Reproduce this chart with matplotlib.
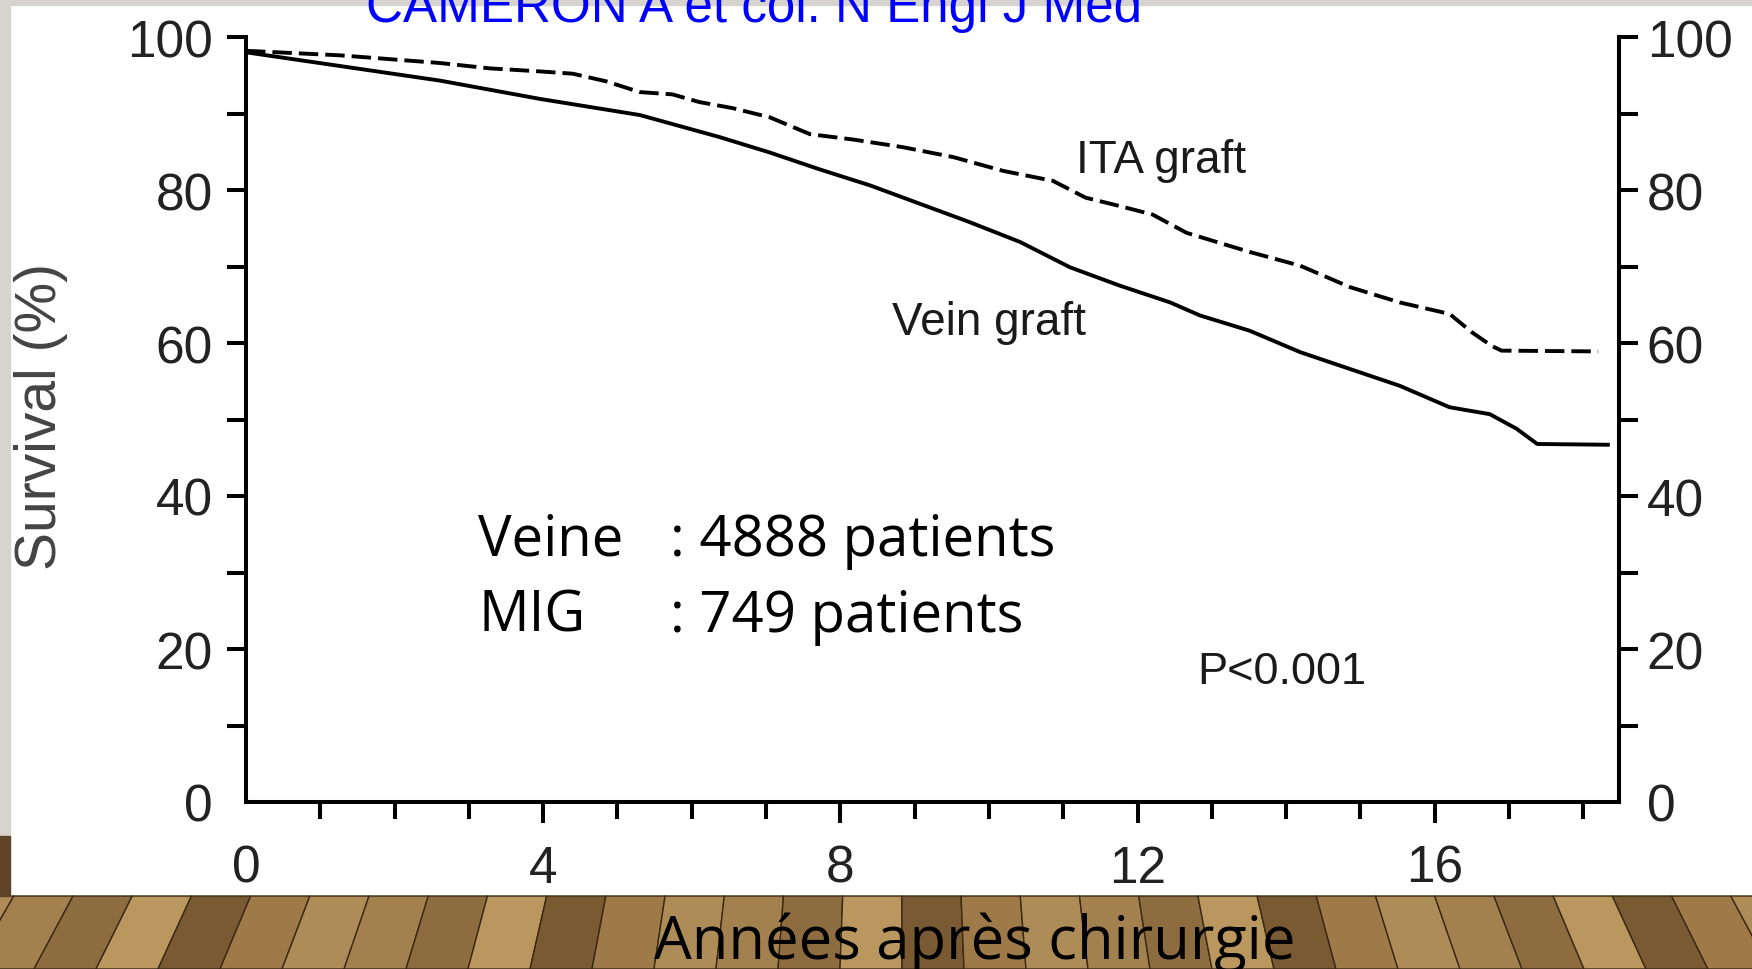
import numpy as np
import matplotlib
matplotlib.use('Agg')
import matplotlib.pyplot as plt
from matplotlib.patches import Polygon, Rectangle

# courbes de survie (années, %)
vein_years = [0, 1.27, 2.61, 3.96, 5.3, 6.38, 7.05, 7.72, 8.4, 9.07, 9.74, 10.42,
              11.09, 11.76, 12.44, 12.84, 13.51, 14.19, 14.86, 15.53, 16.2, 16.74,
              17.1, 17.38, 18.33]
vein_surv = [98.0, 96.2, 94.3, 91.9, 89.8, 86.9, 84.9, 82.7, 80.6, 78.2, 75.8, 73.2,
             69.9, 67.5, 65.3, 63.6, 61.6, 58.8, 56.6, 54.4, 51.6, 50.7,
             48.8, 46.8, 46.7]

ita_years = [0, 1.27, 1.94, 2.61, 3.28, 3.96, 4.4, 4.85, 5.3, 5.74, 6.1, 6.55, 7.05,
             7.59, 8.17, 8.84, 9.52, 10.19, 10.86, 11.3, 11.76, 12.2, 12.66, 13.1,
             13.51, 14.19, 14.86, 15.53, 16.2, 16.5, 16.77, 16.9, 18.2]
ita_surv = [98.2, 97.6, 97.1, 96.6, 95.9, 95.5, 95.2, 94.2, 92.8, 92.5, 91.5, 90.7, 89.5,
            87.3, 86.6, 85.6, 84.3, 82.5, 81.2, 79.0, 77.9, 76.8, 74.4, 73.1,
            71.9, 70.1, 67.3, 65.3, 63.8, 61.4, 59.6, 59.0, 58.9]

x_major = [0, 4, 8, 12, 16]
x_minor = list(range(0, 19))
y_major = [0, 20, 40, 60, 80, 100]
y_minor = [10, 30, 50, 70, 90]

title = 'CAMERON A et col. N Engl J Med'
xlabel = 'Années après chirurgie'
ylabel = 'Survival (%)'
groups = ['Veine', 'MIG']
counts = [': 4888 patients', ': 749 patients']

W, H = 1752, 970
fig = plt.figure(figsize=(W / 100, H / 100), dpi=100)

# fond de la diapo (pixels)
bg = fig.add_axes([0, 0, 1, 1])
bg.set_xlim(0, W)
bg.set_ylim(H, 0)
bg.axis('off')
bg.add_patch(Rectangle((0, 0), W, H, color='white', zorder=0))
bg.add_patch(Rectangle((0, 0), W, 6, color='#d7d4cf', zorder=1))
bg.add_patch(Rectangle((0, 0), 10, 837, color='#d7d4cf', zorder=1))

# parquet
wood_top = 897
vx, vy = 900, -650
wood_cols = ['#a3814f', '#8d6c40', '#b9975f', '#7a5a33', '#9d7a48', '#ae8c58']
xb = np.arange(-400, 2200, 62)
def xat(x0, y):
    return vx + (x0 - vx) * (y - vy) / (H - vy)
for i in range(len(xb) - 1):
    a, b = xb[i], xb[i + 1]
    pts = [(xat(a, wood_top), wood_top), (xat(b, wood_top), wood_top), (b, H), (a, H)]
    bg.add_patch(Polygon(pts, closed=True, facecolor=wood_cols[i % len(wood_cols)],
                         edgecolor='#3a2814', linewidth=1.0, zorder=1))
bg.add_patch(Rectangle((0, 837), 10, 60, color='#5e4326', zorder=1))

# textes de la diapo
bg.text(366, 22, title, color='#0000ff', fontsize=36.8, family='Liberation Sans',
        ha='left', va='baseline', zorder=5)
bg.text(975, 959, xlabel, color='black', fontsize=43, family='Open Sans',
        ha='center', va='baseline', zorder=5)
bg.text(41, 417, ylabel, color='#444444', fontsize=41, family='Liberation Sans',
        rotation=90, ha='center', va='center', zorder=5)
for k in range(2):
    yb = 556 + 76 * k
    bg.text(478, yb, groups[k], color='black', fontsize=40.5, family='Open Sans',
            ha='left', va='baseline', zorder=5)
    bg.text(670, yb, counts[k], color='black', fontsize=40.5, family='Open Sans',
            ha='left', va='baseline', zorder=5)

# graphique
ax = fig.add_axes([246 / W, (H - 803) / H, (1619 - 246) / W, (803 - 38) / H])
ax.patch.set_alpha(0)
ax.set_xlim(0, 18.48)
ax.set_ylim(0, 100)

ax.plot(vein_years, vein_surv, '-', color='black', linewidth=2.8)
ax.plot(ita_years, ita_surv, color='black', linewidth=2.8, linestyle=(0, (5, 1.8)))

ax.text(11.17, 82.3, 'ITA graft', fontsize=33, family='Liberation Sans',
        color='#1a1a1a', ha='left', va='baseline')
ax.text(8.69, 61.2, 'Vein graft', fontsize=33, family='Liberation Sans',
        color='#1a1a1a', ha='left', va='baseline')
ax.text(12.8, 15.5, 'P<0.001', fontsize=32.5, family='Liberation Sans',
        color='#1a1a1a', ha='left', va='baseline')

for s in ['left', 'bottom', 'right']:
    ax.spines[s].set_linewidth(2.9)
ax.spines['top'].set_visible(False)

ax.set_xticks(x_major)
ax.set_xticks(x_minor, minor=True)
ax.set_xticklabels([str(v) for v in x_major], family='Liberation Sans', fontsize=37,
                   color='#222222')
ax.set_yticks(y_major)
ax.set_yticks(y_minor, minor=True)
ax.set_yticklabels([str(v) for v in y_major], family='Liberation Sans', fontsize=37,
                   color='#222222')
ax.tick_params(axis='x', which='major', direction='out', length=15, width=2.9, pad=15)
ax.tick_params(axis='x', which='minor', direction='out', length=12, width=2.9)
ax.tick_params(axis='y', which='both', direction='out', length=14, width=2.9, pad=10)

# axe de droite
ax2 = ax.twinx()
ax2.set_ylim(0, 100)
ax2.spines['top'].set_visible(False)
ax2.spines['right'].set_linewidth(2.9)
ax2.set_yticks(y_major)
ax2.set_yticks(y_minor, minor=True)
ax2.set_yticklabels([str(v) for v in y_major], family='Liberation Sans', fontsize=37,
                    color='#222222')
ax2.tick_params(axis='y', which='both', direction='out', length=14, width=2.9, pad=6)

# pas de tiret à 0
ax.xaxis.get_major_ticks()[0].tick1line.set_visible(False)
ax.yaxis.get_major_ticks()[0].tick1line.set_visible(False)
ax2.yaxis.get_major_ticks()[0].tick2line.set_visible(False)

fig.savefig('out.png', dpi=100)
